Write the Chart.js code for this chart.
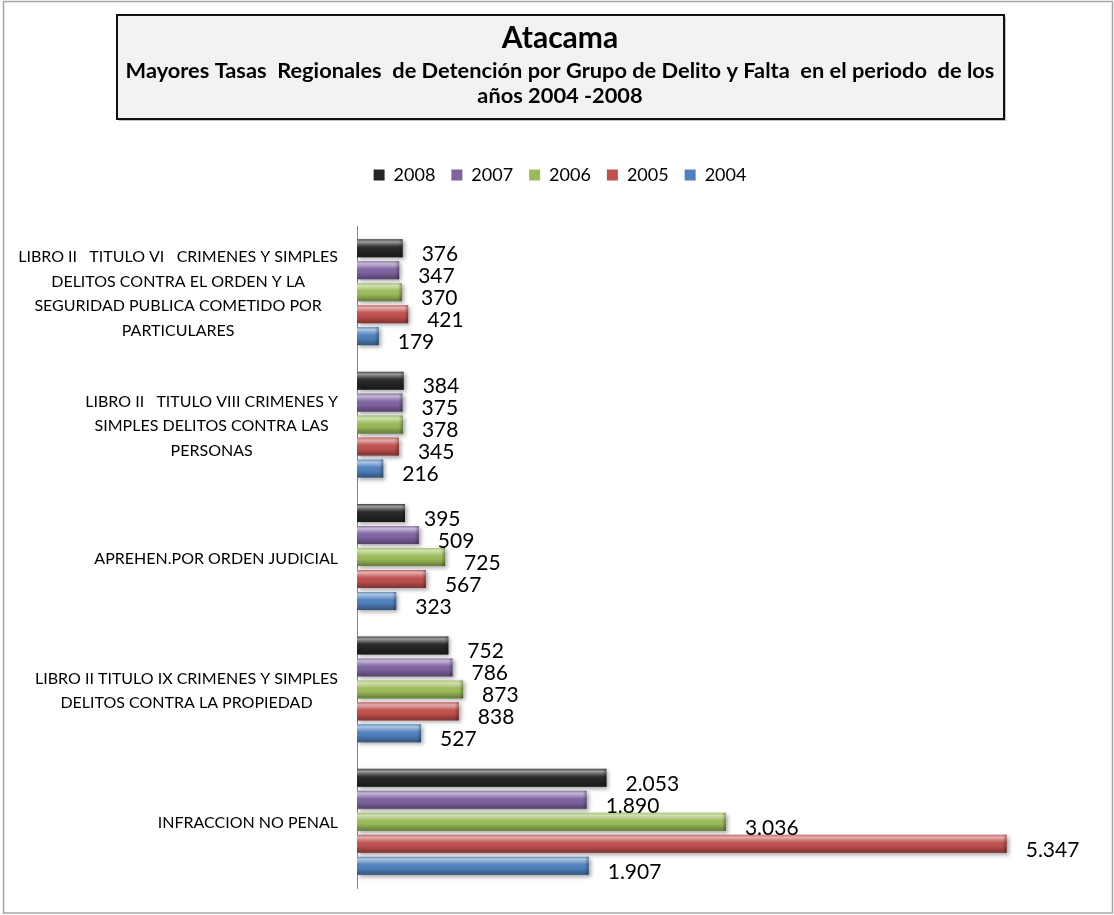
<!DOCTYPE html>
<html><head><meta charset="utf-8">
<script src="https://cdn.jsdelivr.net/npm/chart.js@4"></script>
<style>html,body{margin:0;padding:0;background:#fff;}#wrap{width:1114px;height:915px;}</style>
</head><body><div id="wrap"><canvas id="c" width="1114" height="915"></canvas></div>
<script>
const categories = [
  ["LIBRO II   TITULO VI   CRIMENES Y SIMPLES", "DELITOS CONTRA EL ORDEN Y LA", "SEGURIDAD PUBLICA COMETIDO POR", "PARTICULARES"],
  ["LIBRO II   TITULO VIII CRIMENES Y", "SIMPLES DELITOS CONTRA LAS", "PERSONAS"],
  ["APREHEN.POR ORDEN JUDICIAL"],
  ["LIBRO II TITULO IX CRIMENES Y SIMPLES", "DELITOS CONTRA LA PROPIEDAD"],
  ["INFRACCION NO PENAL"]
];
const seriesNames = ["2008", "2007", "2006", "2005", "2004"];
const values2008 = [376, 384, 395, 752, 2053];
const values2007 = [347, 375, 509, 786, 1890];
const values2006 = [370, 378, 725, 873, 3036];
const values2005 = [421, 345, 567, 838, 5347];
const values2004 = [179, 216, 323, 527, 1907];
const seriesColors = ["#262626", "#8064A2", "#9BBB59", "#C0504D", "#4F81BD"];
const titleText = "Atacama";
const subtitleLines = ["Mayores Tasas  Regionales  de Detención por Grupo de Delito y Falta  en el periodo  de los", "años 2004 -2008"];

const FONT = "Lato, 'Open Sans', sans-serif";
const allValues = [values2008, values2007, values2006, values2005, values2004];

function fmt(v) { return String(v).replace(/\B(?=(\d{3})+(?!\d))/g, '.'); }

const decor = {
  id: 'decor',
  beforeDraw(chart) {
    const ctx = chart.ctx;
    ctx.save();
    ctx.fillStyle = '#fff';
    ctx.fillRect(0, 0, chart.width, chart.height);
    ctx.strokeStyle = '#a6a6a6';
    ctx.lineWidth = 1.5;
    ctx.strokeRect(3.5, 1.5, 1109, 911.5);
    ctx.fillStyle = 'rgba(0,0,0,0.25)';
    ctx.fillRect(119, 17, 887, 104);
    ctx.fillStyle = '#f2f2f2';
    ctx.fillRect(117, 15, 887, 104);
    ctx.strokeStyle = '#111';
    ctx.lineWidth = 2;
    ctx.strokeRect(117, 15, 887, 104);
    ctx.restore();
  },
  beforeDatasetsDraw(chart) {
    const ctx = chart.ctx;
    ctx.save();
    ctx.shadowColor = 'rgba(0,0,0,0.35)';
    ctx.shadowBlur = 4;
    ctx.shadowOffsetX = 2;
    ctx.shadowOffsetY = 2;
  },
  afterDatasetsDraw(chart) {
    const ctx = chart.ctx;
    ctx.restore();
    ctx.save();
    chart.data.datasets.forEach((ds, di) => {
      const meta = chart.getDatasetMeta(di);
      meta.data.forEach((el, i) => {
        const top = el.y - el.height / 2, h = el.height;
        const left = Math.min(el.base, el.x), w = Math.abs(el.x - el.base);
        const g = ctx.createLinearGradient(0, top, 0, top + h);
        g.addColorStop(0, 'rgba(255,255,255,0.15)');
        g.addColorStop(0.14, 'rgba(255,255,255,0.55)');
        g.addColorStop(0.4, 'rgba(255,255,255,0.08)');
        g.addColorStop(0.6, 'rgba(0,0,0,0)');
        g.addColorStop(1, 'rgba(0,0,0,0.35)');
        ctx.fillStyle = g;
        ctx.fillRect(left, top, w, h);
        const g2 = ctx.createLinearGradient(el.x - 4, 0, el.x, 0);
        g2.addColorStop(0, 'rgba(0,0,0,0)');
        g2.addColorStop(1, 'rgba(0,0,0,0.3)');
        ctx.fillStyle = g2;
        ctx.fillRect(el.x - 4, top, 4, h);
        // data label
        ctx.font = '21px ' + FONT;
        ctx.fillStyle = '#000';
        ctx.textAlign = 'left';
        ctx.textBaseline = 'middle';
        ctx.fillText(fmt(ds.data[i]), el.x + 19, el.y + 6);
      });
    });
    // category labels
    const ys = chart.scales.y;
    const labels = ys.getLabels();
    ctx.font = '16px ' + FONT;
    ctx.fillStyle = '#000';
    ctx.textAlign = 'center';
    ctx.textBaseline = 'middle';
    const lh = 24.5;
    labels.forEach((lines, i) => {
      const cy = ys.getPixelForTick(i) + 1.5;
      let maxW = 0;
      lines.forEach(l => { maxW = Math.max(maxW, ctx.measureText(l).width); });
      const cx = 338 - maxW / 2;
      lines.forEach((l, j) => {
        ctx.fillText(l, cx, cy + (j - (lines.length - 1) / 2) * lh);
      });
    });
    ctx.restore();
  }
};

new Chart(document.getElementById('c'), {
  type: 'bar',
  data: {
    labels: categories,
    datasets: seriesNames.map((n, k) => ({
      label: n,
      data: allValues[k],
      backgroundColor: seriesColors[k],
      borderWidth: 0,
      categoryPercentage: 0.83,
      barPercentage: 0.82
    }))
  },
  options: {
    indexAxis: 'y',
    responsive: false,
    animation: false,
    layout: { padding: { top: 0, left: 6, right: 0, bottom: 27 } },
    scales: {
      x: {
        position: 'top',
        min: 0, max: 6230,
        grid: { display: false },
        border: { display: false },
        ticks: { display: false },
        afterFit(s) { s.height = 32; }
      },
      y: {
        grid: { display: false },
        border: { display: true, color: '#868686', width: 1 },
        ticks: { display: false },
        afterFit(s) { s.width = 351; }
      }
    },
    plugins: {
      tooltip: { enabled: false },
      title: {
        display: true,
        text: titleText,
        color: '#000',
        font: { family: FONT, size: 30, weight: 'bold', lineHeight: 1.0 },
        padding: { top: 23.5, bottom: 0 }
      },
      subtitle: {
        display: true,
        text: subtitleLines,
        color: '#000',
        font: { family: FONT, size: 21.8, weight: 'bold', lineHeight: 1.147 },
        padding: { top: 5.4, bottom: 41.1 }
      },
      legend: {
        display: true,
        position: 'top',
        labels: {
          color: '#000',
          boxWidth: 11,
          boxHeight: 11,
          padding: 16,
          font: { family: FONT, size: 18 }
        }
      }
    }
  },
  plugins: [decor]
});
</script></body></html>
